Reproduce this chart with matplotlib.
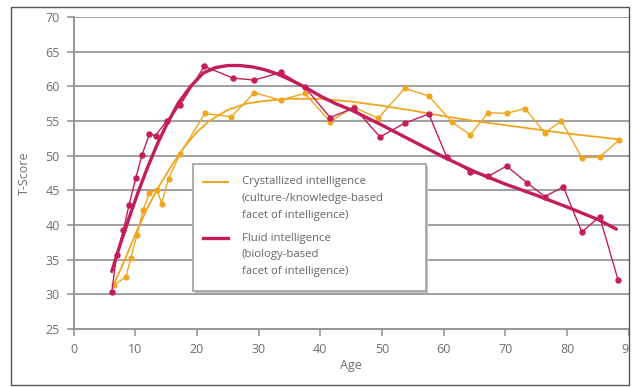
import matplotlib
matplotlib.use('Agg')
import matplotlib.pyplot as plt
from matplotlib.patches import Rectangle
from matplotlib.lines import Line2D
import matplotlib.transforms as mtransforms

# ---------------- data ----------------
cryst_age = [6.5, 8.5, 9.3, 10.3, 11.3, 12.3, 13.5, 14.3, 15.4, 17.3,
             21.3, 25.6, 29.3, 33.6, 37.5, 41.6, 45.4, 49.4, 53.7, 57.6,
             61.3, 64.3, 67.2, 70.2, 73.2, 76.4, 79.1, 82.4, 85.3, 88.5]
cryst_t = [31.3, 32.5, 35.3, 38.6, 42.2, 44.6, 45.1, 43.1, 46.7, 50.3,
           56.1, 55.6, 59.1, 58.0, 59.0, 54.9, 57.0, 55.4, 59.7, 58.6,
           54.9, 53.0, 56.2, 56.1, 56.8, 53.3, 55.0, 49.7, 49.8, 52.3]

fluid_age = [6.2, 7.0, 8.1, 9.0, 10.1, 11.1, 12.3, 13.3, 15.1, 17.3,
             21.2, 25.8, 29.3, 33.6, 37.5, 41.6, 45.5, 49.7, 53.7, 57.6,
             60.5, 64.3, 67.2, 70.2, 73.5, 76.4, 79.4, 82.4, 85.3, 88.3]
fluid_t = [30.3, 35.7, 39.3, 42.9, 46.8, 50.1, 53.1, 52.9, 55.0, 57.3,
           62.9, 61.2, 60.9, 62.0, 59.9, 55.5, 56.9, 52.7, 54.7, 56.0,
           49.8, 47.7, 47.0, 48.5, 46.1, 44.1, 45.5, 39.0, 41.2, 32.0]

cryst_fit_age = [6.5, 8, 10, 12, 14, 16, 18, 20, 22, 25, 28, 31, 35, 40,
                 45, 50, 55, 60, 65, 70, 75, 80, 85, 88]
cryst_fit_t = [31.4, 34.3, 38.6, 42.5, 45.8, 48.7, 51.3, 53.4, 55.0, 56.6,
               57.5, 57.9, 58.2, 58.2, 57.8, 57.2, 56.5, 55.7, 55.0, 54.4,
               53.8, 53.2, 52.7, 52.4]

fluid_fit_age = [6.2, 7.5, 9, 10.5, 12, 13.7, 15, 17, 19, 21, 23, 25, 27,
                 29, 31, 33, 35, 37.5, 40, 42.5, 45, 50, 55, 60, 65, 70,
                 75, 80, 85, 88]
fluid_fit_t = [33.3, 37.0, 41.0, 44.8, 48.3, 51.9, 54.3, 57.6, 60.0, 61.9,
               62.7, 63.0, 63.0, 62.8, 62.4, 61.8, 61.0, 59.9, 58.6, 57.5,
               56.6, 54.4, 52.1, 49.8, 47.7, 45.9, 44.3, 42.6, 40.8, 39.4]

x_ticks = [0, 10, 20, 30, 40, 50, 60, 70, 80, 90]
y_ticks = [25, 30, 35, 40, 45, 50, 55, 60, 65, 70]

cryst_label = ["Crystallized intelligence", "(culture-/knowledge-based",
               "facet of intelligence)"]
fluid_label = ["Fluid intelligence", "(biology-based",
               "facet of intelligence)"]

# ---------------- style ----------------
plt.rcParams['font.family'] = ['Open Sans', 'DejaVu Sans']
ORANGE = '#F1A51F'
MAGENTA = '#C41D5C'
TXT = '#6e6e6e'
GRID = '#a0a0a0'

W, H = 633, 387
fig = plt.figure(figsize=(W / 100, H / 100), dpi=100)
fig.patch.set_facecolor('white')

def px_ax(x, y):
    return ((x - 73.5) / (628.7 - 73.5), (329 - y) / (329 - 17))

ax = fig.add_axes([73.5 / W, 1 - 329 / H, (628.7 - 73.5) / W, (329 - 17) / H])
ax.set_xlim(0, 90)
ax.set_ylim(25, 70)
ax.set_xticks(x_ticks)
ax.set_yticks(y_ticks)
for s in ['top', 'right']:
    ax.spines[s].set_visible(False)
for s in ['left', 'bottom']:
    ax.spines[s].set_color('#969696')
    ax.spines[s].set_linewidth(1.4)
ax.tick_params(axis='both', colors='#969696', labelcolor=TXT, labelsize=9,
               length=5, width=1.2, direction='out')
ax.tick_params(axis='y', pad=5)
ax.tick_params(axis='x', pad=5)
ax.yaxis.grid(True, color=GRID, linewidth=1.4)
ax.set_axisbelow(True)

ax.set_xlabel('Age', color=TXT, fontsize=9, labelpad=2)
ax.set_ylabel('T-Score', color=TXT, fontsize=9, labelpad=10)

# lines
ax.plot(cryst_fit_age, cryst_fit_t, color=ORANGE, lw=1.3, zorder=5,
        solid_capstyle='round')
ax.plot(cryst_age, cryst_t, color=ORANGE, lw=1.0, marker='o', ms=3.4,
        zorder=6)
ax.plot(fluid_age, fluid_t, color=MAGENTA, lw=1.0, marker='o', ms=3.6,
        zorder=6)
ax.plot(fluid_fit_age, fluid_fit_t, color=MAGENTA, lw=2.4, zorder=7,
        solid_capstyle='round')

# legend box (manual)
x0, y1 = px_ax(193, 164)
x1, y0 = px_ax(426, 291)
shadow_tr = mtransforms.offset_copy(ax.transAxes, fig=fig, x=2.2, y=-2.2,
                                    units='dots')
ax.add_patch(Rectangle((x0, y0), x1 - x0, y1 - y0, transform=shadow_tr,
                       facecolor='#c4c4c4', edgecolor='none', zorder=3))
ax.add_patch(Rectangle((x0, y0), x1 - x0, y1 - y0, transform=ax.transAxes,
                       facecolor='white', edgecolor='#a0a0a0', lw=1.2,
                       zorder=3.5))

hx0, _ = px_ax(203, 0)
hx1, _ = px_ax(228, 0)
tx, _ = px_ax(242, 0)
for label, color, lw, ytop in [(cryst_label, ORANGE, 1.4, 181.5),
                                (fluid_label, MAGENTA, 2.4, 238.0)]:
    _, hy = px_ax(0, ytop)
    ax.add_line(Line2D([hx0, hx1], [hy, hy], transform=ax.transAxes,
                       color=color, lw=lw, zorder=4))
    for i, line in enumerate(label):
        _, ty = px_ax(0, ytop + i * 16.8)
        ax.text(tx, ty, line, transform=ax.transAxes, ha='left', va='center',
                fontsize=8.2, color='#666666', zorder=4)

# outer frame and clipping of the right edge
fig.add_artist(Rectangle((629.5 / W, 0), 1 - 629.5 / W, 1,
                         transform=fig.transFigure, facecolor='white',
                         edgecolor='none', zorder=20))
fig.add_artist(Rectangle((11 / W, 1 - 385 / H), (629 - 11) / W, (385 - 7) / H,
                         transform=fig.transFigure, facecolor='none',
                         edgecolor='#555555', lw=1.0, zorder=21))

fig.savefig('out.png', dpi=100)
